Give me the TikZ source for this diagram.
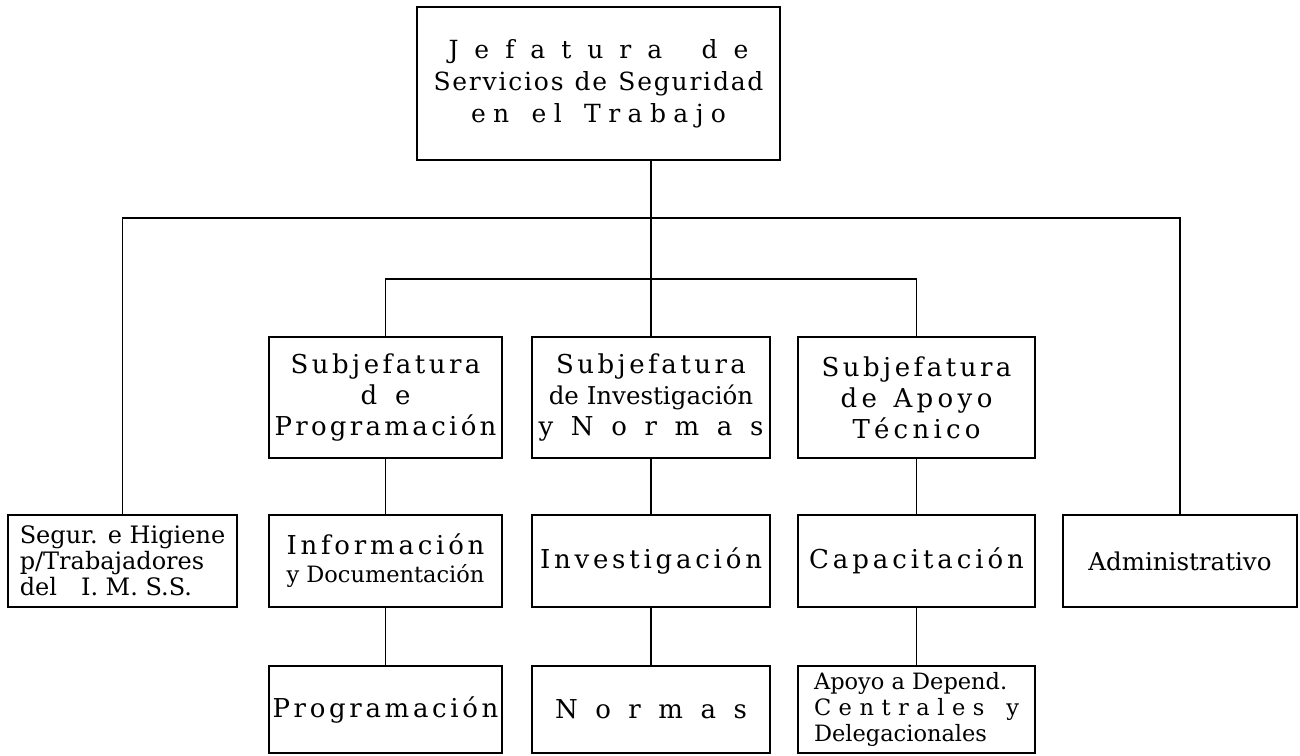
\documentclass[tikz,border=0pt]{standalone}
\usepackage{fontspec}
\setmainfont{DejaVu Serif}
\newcommand\spr[2]{\makebox[#1pt][s]{\spaceskip=0pt plus 1fil\relax #2}}
\newcommand\wg{\hskip 0.3em plus 2fil\relax}
\tikzset{
  box/.style={draw, line width=1.5pt, inner sep=0pt, align=center,
    font=\fontsize{26}{31}\selectfont},
  conn/.style={line width=1.5pt}
}
\begin{document}
\begin{tikzpicture}[x=1pt,y=-1pt]
\useasboundingbox (0,0) rectangle (1300,755);
% top
\node[box, minimum width=363pt, minimum height=153pt, font=\fontsize{25}{32}\selectfont] (top) at (598.5,83.5)
  {\spr{300}{J e f a t u r a\wg d e}\\
   \spr{330}{S e r v i c i o s\wg d e\wg S e g u r i d a d}\\
   \spr{255}{e n\wg e l\wg T r a b a j o}};
% row 1
\node[box, minimum width=233pt, minimum height=121pt] (sp) at (385.5,397.5)
  {\spr{190}{S u b j e f a t u r a}\\ \spr{50}{d e}\\ \spr{222}{P r o g r a m a c i ó n}};
\node[box, minimum width=238pt, minimum height=121pt] (si) at (651,397.5)
  {\spr{190}{S u b j e f a t u r a}\\ {\fontsize{24.5}{31}\selectfont de Investigación}\\ \spr{225}{y N o r m a s}};
\node[box, minimum width=237pt, minimum height=121pt] (sa) at (916.5,397.5)
  {\spr{190}{S u b j e f a t u r a}\\ \spr{152}{d e\wg A p o y o}\\ \spr{128}{T é c n i c o}};
% row 2
\node[box, minimum width=229pt, minimum height=92pt, align=left, font=\fontsize{24}{26}\selectfont] (seg) at (122.5,561)
  {Segur. e Higiene\\ p/Trabajadores\\ del\quad I. M. S.S.};
\node[box, minimum width=233pt, minimum height=92pt, font=\fontsize{26}{28}\selectfont] (info) at (385.5,561)
  {\spr{198}{I n f o r m a c i ó n}\\ {\fontsize{22.5}{28}\selectfont y Documentación}};
\node[box, minimum width=238pt, minimum height=92pt] (inv) at (651,561)
  {\spr{222}{I n v e s t i g a c i ó n}};
\node[box, minimum width=237pt, minimum height=92pt] (cap) at (916.5,561)
  {\spr{215}{C a p a c i t a c i ó n}};
\node[box, minimum width=234pt, minimum height=92pt, font=\fontsize{24.5}{28}\selectfont] (adm) at (1180,561)
  {Administrativo};
% row 3
\node[box, minimum width=233pt, minimum height=87pt] (prog) at (385.5,709.5)
  {\spr{226}{P r o g r a m a c i ó n}};
\node[box, minimum width=238pt, minimum height=87pt] (nor) at (651,709.5)
  {\spr{192}{N o r m a s}};
\node[box, minimum width=237pt, minimum height=87pt, align=left, font=\fontsize{22.5}{26}\selectfont] (apd) at (916.5,709.5)
  {Apoyo a Depend.\\ \spr{205}{C e n t r a l e s\wg y}\\ Delegacionales};
% connectors
\coordinate (bus) at (651,218);
\coordinate (bus2) at (651,279);
\draw[conn] (top.south -| bus) -- (si.north);
\draw[conn] (seg.north) |- (bus) -| (adm.north);
\draw[conn] (sp.north) |- (bus2) -| (sa.north);
\draw[conn] (sp.south) -- (info.north);
\draw[conn] (info.south) -- (prog.north);
\draw[conn] (si.south) -- (inv.north);
\draw[conn] (inv.south) -- (nor.north);
\draw[conn] (sa.south) -- (cap.north);
\draw[conn] (cap.south) -- (apd.north);
\end{tikzpicture}
\end{document}
